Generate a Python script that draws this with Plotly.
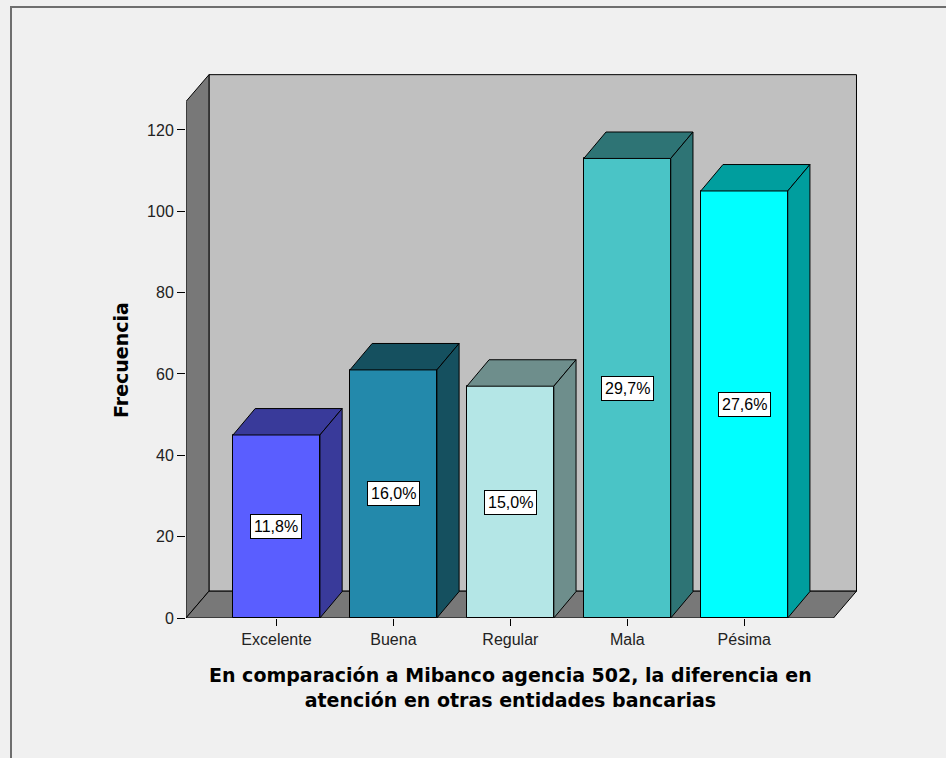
import plotly.graph_objects as go

# Data
categorias = ["Excelente", "Buena", "Regular", "Mala", "Pésima"]
frecuencias = [45, 61, 57, 113, 105]
colores_frente = ["#5a5eff", "#2389ab", "#b4e6e6", "#4ac4c6", "#00ffff"]
colores_lado = ["#393a9a", "#15505f", "#6e8e8c", "#2e7475", "#009e9e"]
y_ticks = [0, 20, 40, 60, 80, 100, 120]

total = sum(frecuencias)

# Layout geometry (pixels) for the 946x758 canvas
W, H = 946, 758
ML, MR, MT, MB = 186, 86, 71, 140
X_MIN, X_MAX = -0.7735, 4.99
Y_MAX = 134.5
plot_w = W - ML - MR
plot_h = H - MT - MB

# 3D depth offsets in data units
DXW, DYW = 0.1966, 6.6      # walls
DX, DY = 0.19, 6.5          # bars
BAR_W = 0.7436
WALL_TOP = 133.6


def px_to_paper_x(px):
    return (px - ML) / plot_w


def py_to_paper_y(py):
    return (H - MB - py) / plot_h


fig = go.Figure()

# Front faces of the bars
fig.add_trace(go.Bar(
    x=list(range(len(categorias))),
    y=frecuencias,
    width=BAR_W,
    marker=dict(color=colores_frente, line=dict(color="black", width=1)),
    hoverinfo="skip",
    showlegend=False,
))

# Top and side faces of each bar
for i, v in enumerate(frecuencias):
    xl, xr = i - BAR_W / 2, i + BAR_W / 2
    fig.add_trace(go.Scatter(
        x=[xl, xl + DX, xr + DX, xr, xl],
        y=[v, v + DY, v + DY, v, v],
        fill="toself", fillcolor=colores_lado[i], mode="lines",
        line=dict(color="black", width=1), hoverinfo="skip", showlegend=False,
    ))
    fig.add_trace(go.Scatter(
        x=[xr, xr, xr + DX, xr + DX, xr],
        y=[0, v, v + DY, DY, 0],
        fill="toself", fillcolor=colores_lado[i], mode="lines",
        line=dict(color="black", width=1), hoverinfo="skip", showlegend=False,
    ))

shapes = []
# Back wall
shapes.append(dict(type="rect", xref="x", yref="y", layer="below",
                   x0=X_MIN + DXW, y0=DYW, x1=X_MAX - 0.03, y1=WALL_TOP,
                   fillcolor="#c0c0c0", line=dict(color="black", width=1)))
# Left wall
shapes.append(dict(type="path", xref="x", yref="y", layer="below",
                   path=f"M {X_MIN},0 L {X_MIN},{WALL_TOP - DYW} L {X_MIN + DXW},{WALL_TOP} "
                        f"L {X_MIN + DXW},{DYW} Z",
                   fillcolor="#787878", line=dict(color="black", width=1)))
# Floor
shapes.append(dict(type="path", xref="x", yref="y", layer="below",
                   path=f"M {X_MIN},0 L {X_MAX - 0.03 - DXW},0 L {X_MAX - 0.03},{DYW} "
                        f"L {X_MIN + DXW},{DYW} Z",
                   fillcolor="#787878", line=dict(color="black", width=1)))
# Outer frame (left and top edges)
shapes.append(dict(type="path", xref="paper", yref="paper",
                   path=f"M {px_to_paper_x(11)},{py_to_paper_y(770)} "
                        f"L {px_to_paper_x(11)},{py_to_paper_y(7)} "
                        f"L {px_to_paper_x(960)},{py_to_paper_y(7)}",
                   line=dict(color="#6e6e6e", width=2)))

annotations = []
for i, v in enumerate(frecuencias):
    pct = f"{v / total * 100:.1f}%".replace(".", ",")
    annotations.append(dict(
        x=i, y=v / 2, xref="x", yref="y", text=pct, showarrow=False,
        font=dict(family="Liberation Sans", size=16, color="black"),
        bgcolor="white", bordercolor="black", borderwidth=1, borderpad=3,
    ))

annotations.append(dict(
    x=px_to_paper_x(510), y=py_to_paper_y(662), xref="paper", yref="paper",
    xanchor="center", yanchor="top", showarrow=False,
    text="<b>En comparación a Mibanco agencia 502, la diferencia en<br>"
         "atención en otras entidades bancarias</b>",
    font=dict(family="DejaVu Sans", size=19, color="black"),
))
annotations.append(dict(
    x=px_to_paper_x(121), y=py_to_paper_y(360), xref="paper", yref="paper",
    xanchor="center", yanchor="middle", showarrow=False, textangle=-90,
    text="<b>Frecuencia</b>",
    font=dict(family="DejaVu Sans", size=19, color="black"),
))

fig.update_layout(
    width=W, height=H, autosize=False,
    margin=dict(l=ML, r=MR, t=MT, b=MB, pad=0),
    paper_bgcolor="#f0f0f0", plot_bgcolor="rgba(0,0,0,0)",
    shapes=shapes, annotations=annotations,
    bargap=0,
    xaxis=dict(range=[X_MIN, X_MAX], tickvals=list(range(len(categorias))),
               ticktext=categorias, ticks="outside", ticklen=7, tickcolor="black",
               showgrid=False, zeroline=False, showline=False, fixedrange=True,
               tickfont=dict(family="Liberation Sans", size=16, color="#222")),
    yaxis=dict(range=[0, Y_MAX], tickvals=y_ticks, ticks="outside", ticklen=8,
               tickcolor="black", showgrid=False, zeroline=False, showline=False,
               fixedrange=True,
               tickfont=dict(family="Liberation Sans", size=16, color="#222")),
)

fig.write_html("out.html")
